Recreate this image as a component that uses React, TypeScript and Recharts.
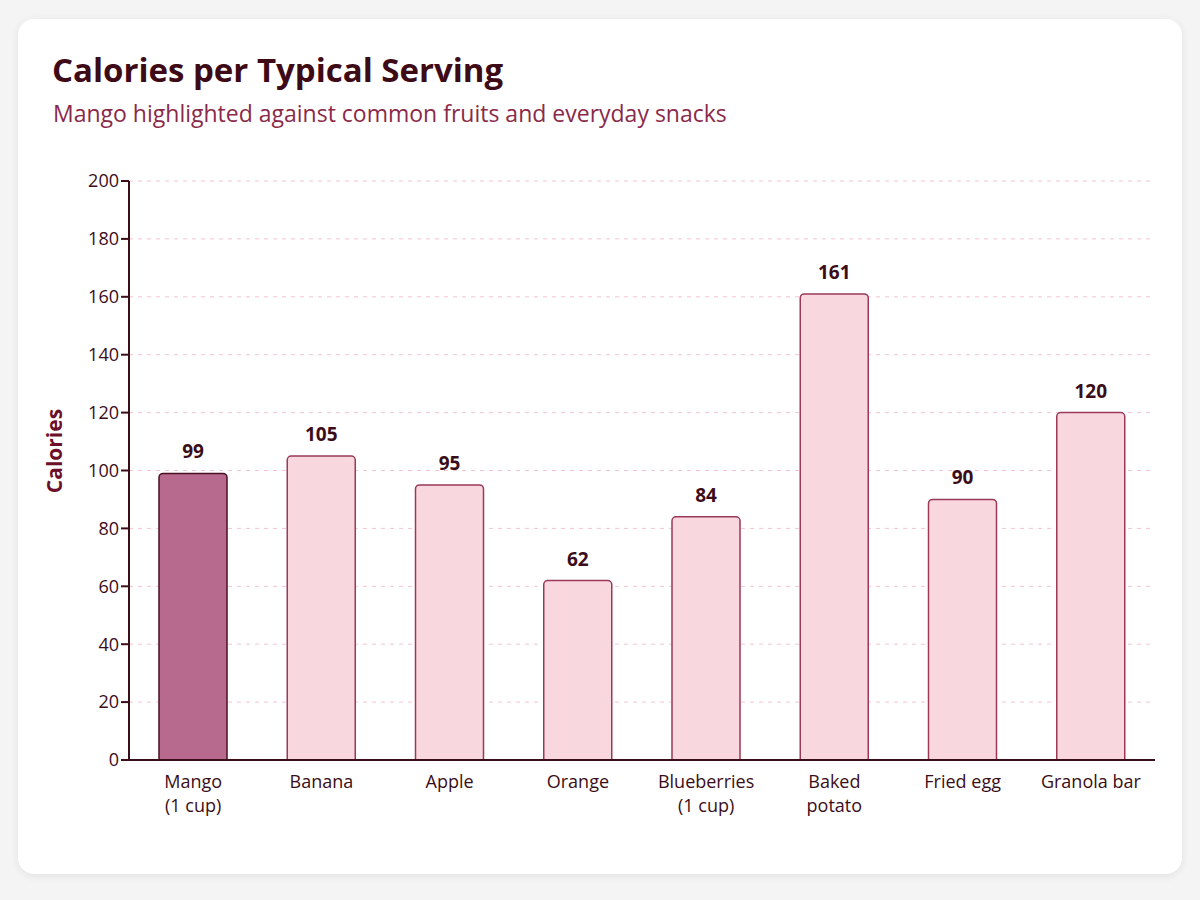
import React from 'react';
import { BarChart, Bar, XAxis, YAxis, CartesianGrid, Cell, LabelList } from 'recharts';

const foods = ['Mango\n(1 cup)', 'Banana', 'Apple', 'Orange', 'Blueberries\n(1 cup)', 'Baked\npotato', 'Fried egg', 'Granola bar'];
const calories = [99, 105, 95, 62, 84, 161, 90, 120];
const yTicks = [0, 20, 40, 60, 80, 100, 120, 140, 160, 180, 200];
const highlight = 'Mango\n(1 cup)';

const chartData = foods.map((name, i) => ({ name, calories: calories[i] }));

const FONT = '"Open Sans", "Noto Sans", sans-serif';

const FoodTick = ({ x, y, payload }: any) => {
  const lines = String(payload.value).split('\n');
  return (
    <text x={x} y={y + 20} textAnchor="middle" fontFamily={FONT} fontSize={18} fill="#3a0d18">
      {lines.map((l, i) => (
        <tspan key={i} x={x} dy={i === 0 ? 0 : 24}>{l}</tspan>
      ))}
    </text>
  );
};

const ValueLabel = ({ x, y, width, value }: any) => (
  <text x={x + width / 2} y={y - 15} textAnchor="middle" fontFamily={FONT} fontSize={19} fontWeight={700} fill="#3a0d18">
    {value}
  </text>
);

const AxisTitle = () => (
  <text x={0} y={0} transform="translate(62, 451) rotate(-90)" textAnchor="middle"
    fontFamily={FONT} fontSize={21} fontWeight={700} fill="#6b1028">
    Calories
  </text>
);

const App: React.FC = () => {
  return (
    <div style={{ position: 'fixed', left: 0, top: 0, width: 1200, height: 900, background: '#f5f4f4', fontFamily: FONT }}>
      <div style={{
        position: 'absolute', left: 18, top: 19, width: 1164, height: 855,
        background: '#ffffff', borderRadius: 16, boxShadow: '0 2px 8px rgba(0,0,0,0.08)'
      }} />
      <div style={{ position: 'absolute', left: 52, top: 47, fontSize: 33, fontWeight: 700, color: '#3d0a16', whiteSpace: 'nowrap' }}>
        Calories per Typical Serving
      </div>
      <div style={{ position: 'absolute', left: 53, top: 97, fontSize: 23, color: '#8a2a4a', whiteSpace: 'nowrap' }}>
        Mango highlighted against common fruits and everyday snacks
      </div>
      <div style={{ position: 'absolute', left: 0, top: 0 }}>
        <BarChart width={1200} height={900} data={chartData} margin={{ top: 181, right: 45, bottom: 80, left: 29 }}>
          <CartesianGrid vertical={false} stroke="#f2c4d0" strokeDasharray="4 5" />
          <XAxis
            dataKey="name"
            interval={0}
            tick={<FoodTick />}
            tickLine={false}
            axisLine={{ stroke: '#3a0d18', strokeWidth: 2 }}
            height={60}
          />
          <YAxis
            width={100}
            domain={[0, 200]}
            ticks={yTicks}
            interval={0}
            tick={{ fontFamily: FONT, fontSize: 18, fill: '#3a0d18' }}
            tickLine={{ stroke: '#3a0d18', strokeWidth: 2 }}
            tickSize={8}
            axisLine={{ stroke: '#3a0d18', strokeWidth: 2 }}
            label={<AxisTitle />}
          />
          <Bar dataKey="calories" barSize={68} radius={[4, 4, 0, 0]} isAnimationActive={false}>
            {chartData.map(d => (
              <Cell
                key={d.name}
                fill={d.name === highlight ? '#b86a8e' : '#f8d7df'}
                stroke={d.name === highlight ? '#4a1020' : '#9a3a58'}
                strokeWidth={1.5}
              />
            ))}
            <LabelList dataKey="calories" content={<ValueLabel />} />
          </Bar>
        </BarChart>
      </div>
    </div>
  );
};

export default App;
